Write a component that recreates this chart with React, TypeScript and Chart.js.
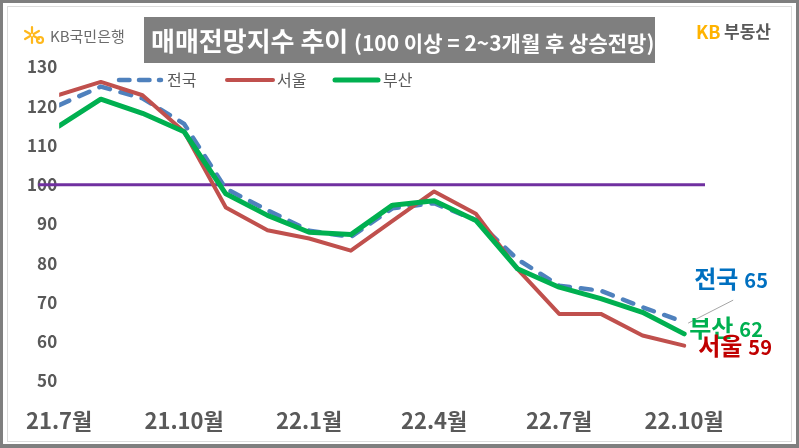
import React, { useEffect, useRef } from 'react';
import { Chart, registerables } from 'chart.js';

Chart.register(...registerables);

// ---- data ----
const months = ['21.7', '21.8', '21.9', '21.10', '21.11', '21.12', '22.1', '22.2', '22.3', '22.4', '22.5', '22.6', '22.7', '22.8', '22.9', '22.10'];
const nationwide = [120.3, 125, 122, 115.5, 99, 93.5, 88.3, 86.7, 94, 95.3, 91, 81, 74.3, 73, 68.8, 65];
const seoul = [122.9, 126.2, 122.8, 113.5, 94.2, 88.4, 86.3, 83.2, 90.8, 98.3, 92.6, 78.5, 67.1, 67.1, 61.6, 59];
const busan = [115, 121.8, 118.2, 113.5, 97.7, 92.2, 87.9, 87.3, 94.8, 95.9, 90.9, 78.6, 73.9, 71, 67.5, 62];
const referenceLevel = [100, 100];
const referenceSpan = [-0.5, 15.5];
const tickMonths = ['21.7', '21.10', '22.1', '22.4', '22.7', '22.10'];
const seriesNames = ['전국', '서울', '부산'];
const lastValues = ['65', '62', '59'];
const titleMain = '매매전망지수 추이';
const titleSub = '(100 이상 = 2~3개월 후 상승전망)';

const FONT = '"Noto Sans CJK KR", "Noto Sans", sans-serif';
const BLUE = '#4f81bd';
const RED = '#c0504d';
const GREEN = '#00b050';
const PURPLE = '#7030a0';
const GRAY = '#595959';

const toPoints = (vals: number[]) => vals.map((v, i) => ({ x: i, y: v }));

const decorPlugin = {
  id: 'decor',
  beforeDraw(chart: any) {
    const { ctx, width, height } = chart;
    ctx.save();
    // frame
    ctx.fillStyle = '#7f7f7f';
    ctx.fillRect(0, 0, width, height);
    ctx.fillStyle = '#ffffff';
    ctx.fillRect(3, 3, width - 6, height - 7);
    ctx.strokeStyle = '#dcdcdc';
    ctx.lineWidth = 1;
    ctx.strokeRect(7.5, 6.5, width - 15, height - 13);

    // title box
    ctx.fillStyle = '#7f7f7f';
    ctx.fillRect(144, 17, 511, 46);
    ctx.fillStyle = '#ffffff';
    ctx.textBaseline = 'middle';
    ctx.textAlign = 'left';
    ctx.font = `bold 26px ${FONT}`;
    ctx.fillText(titleMain, 151, 41);
    ctx.font = `bold 21px ${FONT}`;
    ctx.fillText(titleSub, 354, 43);

    // KB bank logo
    ctx.strokeStyle = '#ffb81c';
    ctx.lineWidth = 2.2;
    ctx.lineCap = 'round';
    const cx = 32, cy = 35;
    for (let k = 0; k < 6; k++) {
      const a = (Math.PI / 3) * k + Math.PI / 2;
      ctx.beginPath();
      ctx.moveTo(cx + Math.cos(a) * 2, cy - Math.sin(a) * 2);
      ctx.lineTo(cx + Math.cos(a) * 8, cy - Math.sin(a) * 8);
      ctx.stroke();
    }
    ctx.beginPath();
    ctx.arc(40, 40, 3, 0, Math.PI * 2);
    ctx.stroke();
    ctx.fillStyle = '#6b6b6b';
    ctx.font = `15px ${FONT}`;
    ctx.fillText('KB국민은행', 50, 36);

    // KB부동산
    ctx.font = `bold 18px ${FONT}`;
    ctx.fillStyle = '#ffb300';
    ctx.fillText('KB', 696, 32);
    ctx.font = `bold 17px ${FONT}`;
    ctx.fillStyle = GRAY;
    ctx.fillText('부동산', 724, 32);

    // legend
    const ly = 80;
    const items = [
      { color: BLUE, width: 4.5, dash: [10.5, 9.5], x0: 119, x1: 161, tx: 167 },
      { color: RED, width: 4, dash: [], x0: 227, x1: 273, tx: 277 },
      { color: GREEN, width: 5, dash: [], x0: 335, x1: 378, tx: 383 },
    ];
    items.forEach((it, i) => {
      ctx.strokeStyle = it.color;
      ctx.lineWidth = it.width;
      ctx.lineCap = 'round';
      ctx.setLineDash(it.dash);
      ctx.beginPath();
      ctx.moveTo(it.x0, ly);
      ctx.lineTo(it.x1, ly);
      ctx.stroke();
      ctx.setLineDash([]);
      ctx.fillStyle = GRAY;
      ctx.font = `16px ${FONT}`;
      ctx.fillText(seriesNames[i], it.tx, ly);
    });
    ctx.restore();
  },
  afterDraw(chart: any) {
    const { ctx } = chart;
    const xs = chart.scales.x;
    const ys = chart.scales.y;
    const lastX = xs.getPixelForValue(months.length - 1);
    ctx.save();
    ctx.textBaseline = 'middle';
    ctx.textAlign = 'left';
    // leader line for 전국
    const by = ys.getPixelForValue(nationwide[nationwide.length - 1]);
    ctx.strokeStyle = '#a6a6a6';
    ctx.lineWidth = 1;
    ctx.beginPath();
    ctx.moveTo(lastX + 4, by + 1);
    ctx.lineTo(lastX + 49, by - 22);
    ctx.stroke();

    const labels = [
      { name: seriesNames[0], val: lastValues[0], color: '#0070c0', dx: 10, y: ys.getPixelForValue(nationwide[15]) - 43 },
      { name: seriesNames[2], val: lastValues[1], color: GREEN, dx: 5, y: ys.getPixelForValue(busan[15]) - 6 },
      { name: seriesNames[1], val: lastValues[2], color: '#c00000', dx: 14, y: ys.getPixelForValue(seoul[15]) },
    ];
    labels.forEach((l) => {
      ctx.fillStyle = l.color;
      ctx.font = `bold 24px ${FONT}`;
      ctx.fillText(l.name, lastX + l.dx, l.y);
      const w = ctx.measureText(l.name).width;
      ctx.font = `bold 20px ${FONT}`;
      ctx.fillText(l.val, lastX + l.dx + w + 6, l.y + 1.5);
    });
    ctx.restore();
  },
};

export default function App() {
  const ref = useRef<HTMLCanvasElement | null>(null);
  useEffect(() => {
    if (!ref.current) return;
    const chart = new Chart(ref.current, {
      type: 'line',
      data: {
        datasets: [
          {
            label: seriesNames[2],
            data: toPoints(busan),
            borderColor: GREEN,
            borderWidth: 5,
            pointRadius: 0,
            borderJoinStyle: 'round',
            borderCapStyle: 'round',
            order: 0,
          },
          {
            label: seriesNames[1],
            data: toPoints(seoul),
            borderColor: RED,
            borderWidth: 4,
            pointRadius: 0,
            borderJoinStyle: 'round',
            borderCapStyle: 'round',
            order: 1,
          },
          {
            label: seriesNames[0],
            data: toPoints(nationwide),
            borderColor: BLUE,
            borderWidth: 4.5,
            borderDash: [11, 11],
            pointRadius: 0,
            borderJoinStyle: 'round',
            borderCapStyle: 'round',
            order: 2,
          },
          {
            label: '100',
            data: referenceSpan.map((x, i) => ({ x, y: referenceLevel[i] })),
            borderColor: PURPLE,
            borderWidth: 3,
            pointRadius: 0,
            clip: false,
            order: 3,
          },
        ] as any,
      },
      options: {
        animation: false,
        responsive: false,
        devicePixelRatio: 1,
        layout: { padding: { top: 67, right: 94, bottom: 0, left: 0 } },
        plugins: { legend: { display: false }, tooltip: { enabled: false } },
        scales: {
          x: {
            type: 'linear',
            min: 0,
            max: 15.5,
            grid: { display: false, drawTicks: false },
            border: { display: false },
            afterBuildTicks: (s: any) => {
              s.ticks = tickMonths.map((m) => ({ value: months.indexOf(m) }));
            },
            afterFit: (s: any) => {
              s.height = 67;
            },
            ticks: {
              autoSkip: false,
              maxRotation: 0,
              padding: 26,
              color: GRAY,
              font: { family: FONT, size: 22, weight: 'bold' },
              callback: (v: any) => months[v] + '월',
            },
          },
          y: {
            min: 50,
            max: 130,
            z: 1,
            grid: { display: false, drawTicks: false },
            border: { display: false },
            afterFit: (s: any) => {
              s.width = 48;
            },
            ticks: {
              stepSize: 10,
              padding: 2,
              color: GRAY,
              font: { family: FONT, size: 17, weight: 'bold' },
            },
          },
        },
      } as any,
      plugins: [decorPlugin],
    });
    return () => chart.destroy();
  }, []);
  return (
    <div style={{ position: 'absolute', left: 0, top: 0, width: 799, height: 448 }}>
      <canvas ref={ref} width={799} height={448} />
    </div>
  );
}
